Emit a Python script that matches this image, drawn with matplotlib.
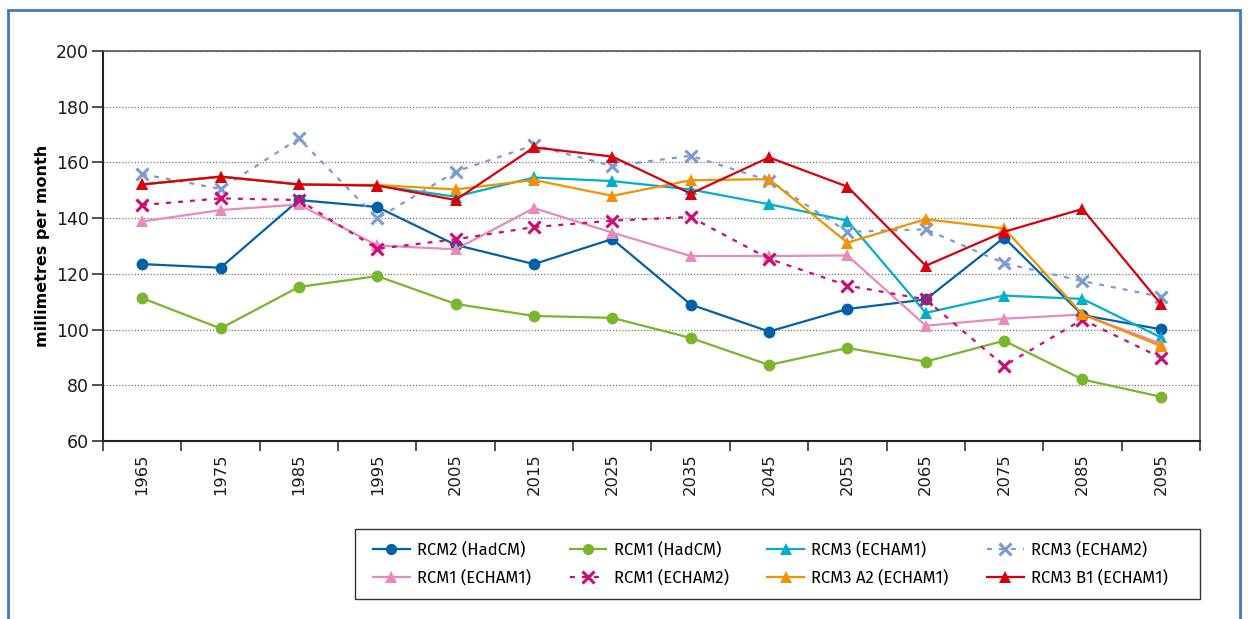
import numpy as np
import matplotlib.pyplot as plt
from matplotlib.patches import Rectangle

# Decades (category axis) and monthly precipitation for each model run
years = ["1965", "1975", "1985", "1995", "2005", "2015", "2025",
         "2035", "2045", "2055", "2065", "2075", "2085", "2095"]

rcm2_hadcm = [123.5, 122.2, 146.5, 144.0, 130.4, 123.5, 132.5,
              109.0, 99.3, 107.4, 110.8, 133.0, 105.2, 100.1]
rcm1_hadcm = [111.3, 100.4, 115.3, 119.2, 109.2, 104.9, 104.2,
              97.0, 87.3, 93.4, 88.5, 96.0, 82.1, 75.9]
rcm3_echam1 = [152.1, 154.9, 152.1, 151.7, 147.7, 154.6, 153.3,
               150.3, 145.0, 139.1, 106.0, 112.2, 111.0, 97.2]
rcm3_echam2 = [155.8, 150.5, 168.6, 139.9, 156.7, 166.2, 158.7,
               162.4, 153.5, 135.1, 136.0, 123.8, 117.4, 111.8]
rcm1_echam1 = [138.8, 142.9, 144.9, 130.2, 128.8, 143.6, 134.8,
               126.4, 126.4, 126.6, 101.4, 103.9, 105.4, 95.0]
rcm1_echam2 = [144.7, 147.1, 146.5, 129.0, 132.4, 136.8, 139.1,
               140.4, 125.4, 115.8, 110.8, 87.0, 103.6, 89.9]
rcm3_a2_echam1 = [152.1, 154.9, 152.1, 151.9, 150.3, 153.7, 148.0,
                  153.6, 154.0, 131.2, 139.6, 136.3, 105.5, 94.1]
rcm3_b1_echam1 = [152.1, 154.9, 152.1, 151.7, 146.5, 165.4, 162.1,
                  148.8, 161.8, 151.3, 122.9, 135.1, 143.3, 109.2]

series = [
    ("RCM2 (HadCM)", rcm2_hadcm, "#0061a9", "o", "-"),
    ("RCM1 (HadCM)", rcm1_hadcm, "#7ab52b", "o", "-"),
    ("RCM3 (ECHAM1)", rcm3_echam1, "#00afc9", "^", "-"),
    ("RCM3 (ECHAM2)", rcm3_echam2, "#7b9bd2", "x", (0, (2.2, 3.2))),
    ("RCM1 (ECHAM1)", rcm1_echam1, "#e68bba", "^", "-"),
    ("RCM1 (ECHAM2)", rcm1_echam2, "#cf0a72", "x", (0, (2.2, 3.2))),
    ("RCM3 A2 (ECHAM1)", rcm3_a2_echam1, "#f39200", "^", "-"),
    ("RCM3 B1 (ECHAM1)", rcm3_b1_echam1, "#d9000d", "^", "-"),
]

plt.rcParams["font.family"] = "DejaVu Sans"

W, H = 1248, 619
fig = plt.figure(figsize=(W / 100, H / 100), dpi=100)
ax = fig.add_axes([103 / W, 1 - 441 / H, (1200 - 103) / W, (441 - 51) / H])

x = np.arange(len(years))
handles = []
for label, vals, color, marker, ls in series:
    if marker == "x":
        h, = ax.plot(x, vals, color=color, linestyle=ls, linewidth=1.6,
                     marker="x", markersize=8.5, markeredgewidth=2.2, label=label)
    else:
        h, = ax.plot(x, vals, color=color, linestyle=ls, linewidth=1.6,
                     marker=marker, markersize=8.5, markeredgewidth=0, label=label)
    handles.append(h)

ax.set_ylim(60, 200)
ax.set_yticks(np.arange(60, 201, 20))
ax.set_xlim(-0.5, len(years) - 0.5)
ax.set_xticks(np.arange(-0.5, len(years), 1.0))
ax.set_xticklabels([])
ax.set_xticks(x, minor=True)
ax.set_xticklabels(years, minor=True, rotation=90)
ax.tick_params(axis="x", which="minor", length=0, pad=9, labelsize=11.8, colors="#1a1a1a")
ax.tick_params(axis="x", which="major", length=7, width=1.2, color="#333333")
ax.tick_params(axis="y", length=8, width=1.2, color="#333333", labelsize=12.5, pad=2,
               labelcolor="#1a1a1a")

ax.grid(axis="y", linestyle=(0, (1, 1.5)), color="#777777", linewidth=0.9)
ax.set_axisbelow(True)
for side in ["left", "bottom"]:
    ax.spines[side].set_color("#222222")
    ax.spines[side].set_linewidth(1.5)
for side in ["top", "right"]:
    ax.spines[side].set_color("#555555")
    ax.spines[side].set_linewidth(1.2)

ax.set_ylabel("millimetres per month", fontsize=11.5, fontweight="bold", labelpad=4)

# legend filled row by row, four columns, inside a wider box
order = [0, 4, 1, 5, 2, 6, 3, 7]
leg = fig.legend([handles[i] for i in order], [series[i][0] for i in order],
                 ncol=4, loc="center left",
                 bbox_to_anchor=(373 / W, 1 - 564 / H),
                 frameon=False, borderpad=0, borderaxespad=0,
                 handlelength=2.2, handletextpad=0.45, labelspacing=0.7,
                 columnspacing=2.3, markerscale=0.95,
                 prop={"family": ["Fira Sans", "DejaVu Sans"], "size": 12})
fig.patches.append(Rectangle((355 / W, 1 - 599 / H), 845 / W, 70 / H,
                             transform=fig.transFigure, fill=False,
                             edgecolor="#333333", linewidth=1.0))

# outer blue frame
fig.patches.append(Rectangle((8 / W, -0.05), (1240 - 8) / W, 1.05 - 10 / H,
                             transform=fig.transFigure, fill=False,
                             edgecolor="#3a7cc4", linewidth=2))

fig.savefig("out.png", dpi=100)
